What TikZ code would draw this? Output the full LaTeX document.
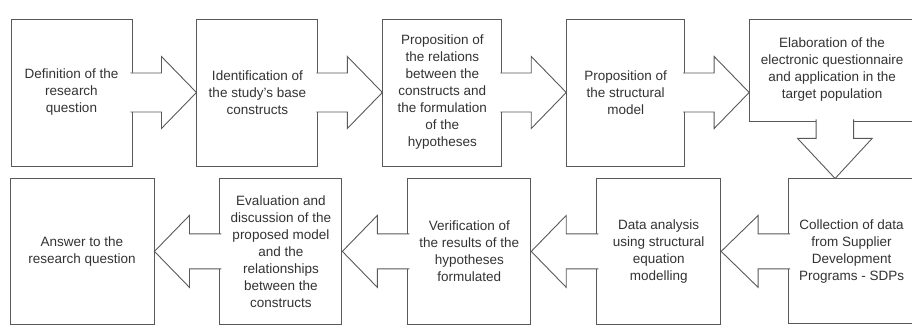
\documentclass[tikz,border=0pt]{standalone}
\usepackage{fontspec}
\setmainfont{Liberation Sans}
\usepackage{xcolor}
\usepackage{tikz}
\usetikzlibrary{positioning, calc}

\begin{document}
\begin{tikzpicture}[
		node distance=64pt and 64pt,
		box/.style={rectangle, draw=black!65, line width=0.9pt, fill=white, minimum width=121pt, minimum height=147pt, align=center, inner sep=2pt, text=black!80, font=\fontsize{13.5}{17}\selectfont},
		blockarrow/.style={draw=black!65, line width=0.9pt, fill=white, line join=miter}
		]
		\useasboundingbox (0,0) rectangle (912pt,334pt);
		
		% Top row, left to right
		\node[box] (def) at (71.5pt,241.5pt) {Definition of the\\research\\question};
		\node[box, right=of def] (ident) {Identification of\\the study's base\\constructs};
		\node[box, right=of ident, minimum width=119pt] (relat) {Proposition of\\the relations\\between the\\constructs and\\the formulation\\of the\\hypotheses};
		\node[box, right=of relat, minimum width=118pt] (model) {Proposition of\\the structural\\model};
		\node[box, below right=0pt and 64pt of model.north east, minimum width=165pt, minimum height=102pt] (elab) {Elaboration of the\\electronic questionnaire\\and application in the\\target population};
		
		% Bottom row, right to left
		\node[box, below left=57pt and 0pt of elab.south east, minimum width=126pt, minimum height=145pt] (collect) {Collection of data\\from Supplier\\Development\\Programs - SDPs};
		\node[box, left=67pt of collect, minimum width=124pt, minimum height=146pt] (analysis) {Data analysis\\using structural\\equation\\modelling};
		\node[box, left=65pt of analysis, minimum width=123pt, minimum height=146pt] (verif) {Verification of\\the results of the\\hypotheses\\formulated};
		\node[box, left=65pt of verif, minimum width=122pt, minimum height=146pt] (eval) {Evaluation and\\discussion of the\\proposed model\\and the\\relationships\\between the\\constructs};
		\node[box, left=65pt of eval, minimum width=144pt, minimum height=146pt] (answer) {Answer to the\\research question};
		
		% Block arrows along the top row
		\draw[blockarrow] ($(def.east)+(-2pt,19.5pt)$) -- ++(31pt,0) -- ++(0,16.5pt) -- (def.east -| ident.west) -- ($(def.east)+(29pt,-36pt)$) -- ++(0,16.5pt) -- ++(-31pt,0);
		\draw[blockarrow] ($(ident.east)+(-2pt,19.5pt)$) -- ++(31pt,0) -- ++(0,16.5pt) -- (ident.east -| relat.west) -- ($(ident.east)+(29pt,-36pt)$) -- ++(0,16.5pt) -- ++(-31pt,0);
		\draw[blockarrow] ($(relat.east)+(-2pt,19.5pt)$) -- ++(31pt,0) -- ++(0,16.5pt) -- (relat.east -| model.west) -- ($(relat.east)+(29pt,-36pt)$) -- ++(0,16.5pt) -- ++(-31pt,0);
		\draw[blockarrow] ($(model.east)+(-2pt,19.5pt)$) -- ++(31pt,0) -- ++(0,16.5pt) -- (model.east -| elab.west) -- ($(model.east)+(29pt,-36pt)$) -- ++(0,16.5pt) -- ++(-31pt,0);
		
		% Block arrow down to the bottom row
		\draw[blockarrow] ($(elab.south)+(-16pt,2pt)$) -- ++(0,-19pt) -- ++(-18.5pt,0) -- ($(elab.south |- collect.north)+(3pt,0)$) -- ($(elab.south)+(40pt,-17pt)$) -- ++(-18.5pt,0) -- ++(0,19pt);
		
		% Block arrows along the bottom row
		\draw[blockarrow] ($(collect.west)+(2pt,17.5pt)$) -- ++(-32pt,0) -- ++(0,18.5pt) -- (collect.west -| analysis.east) -- ($(collect.west)+(-30pt,-36pt)$) -- ++(0,18.5pt) -- ++(32pt,0);
		\draw[blockarrow] ($(analysis.west)+(2pt,17.5pt)$) -- ++(-32pt,0) -- ++(0,18.5pt) -- (analysis.west -| verif.east) -- ($(analysis.west)+(-30pt,-36pt)$) -- ++(0,18.5pt) -- ++(32pt,0);
		\draw[blockarrow] ($(verif.west)+(2pt,17.5pt)$) -- ++(-32pt,0) -- ++(0,18.5pt) -- (verif.west -| eval.east) -- ($(verif.west)+(-30pt,-36pt)$) -- ++(0,18.5pt) -- ++(32pt,0);
		\draw[blockarrow] ($(eval.west)+(2pt,17.5pt)$) -- ++(-32pt,0) -- ++(0,18.5pt) -- (eval.west -| answer.east) -- ($(eval.west)+(-30pt,-36pt)$) -- ++(0,18.5pt) -- ++(32pt,0);
		
	\end{tikzpicture}
\end{document}
